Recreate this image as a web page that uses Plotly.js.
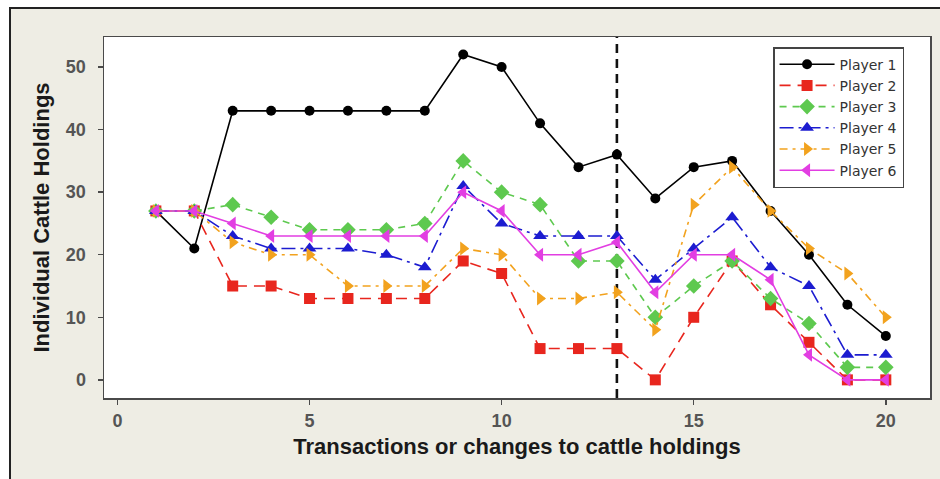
<!DOCTYPE html>
<html>
<head>
<meta charset="utf-8">
<script src="https://cdn.plot.ly/plotly-3.0.1.min.js"></script>
<style>
  html, body { margin: 0; padding: 0; background: #ffffff; width: 940px; height: 479px; overflow: hidden; }
  #frame { position: absolute; left: 9px; top: 7px; width: 931px; height: 472px;
           border-top: 2px solid #222; border-left: 2px solid #222; background: #eeede4; }
  #chart { width: 929px; height: 470px; }
</style>
</head>
<body>
<div id="frame"><div id="chart"></div></div>
<script>
const transactions = [1,2,3,4,5,6,7,8,9,10,11,12,13,14,15,16,17,18,19,20];
const player1 = [27,21,43,43,43,43,43,43,52,50,41,34,36,29,34,35,27,20,12,7];
const player2 = [27,27,15,15,13,13,13,13,19,17,5,5,5,0,10,19,12,6,0,0];
const player3 = [27,27,28,26,24,24,24,25,35,30,28,19,19,10,15,19,13,9,2,2];
const player4 = [27,27,23,21,21,21,20,18,31,25,23,23,23,16,21,26,18,15,4,4];
const player5 = [27,27,22,20,20,15,15,15,21,20,13,13,14,8,28,34,27,21,17,10];
const player6 = [27,27,25,23,23,23,23,23,30,27,20,20,22,14,20,20,16,4,0,0];
const seriesNames = ["Player 1","Player 2","Player 3","Player 4","Player 5","Player 6"];
const xTicks = [0,5,10,15,20];
const yTicks = [0,10,20,30,40,50];
const markerLine = 13;

const series = [player1, player2, player3, player4, player5, player6];
const colors = ["#000000","#e8261e","#5ec94f","#1c1cd0","#f2a21e","#e23ee2"];
const symbols = ["circle","square","diamond","triangle-up","triangle-right","triangle-left"];
const dashes = ["solid","11px,7px","7px,6px","14px,5px,3px,5px","8px,5px,3px,5px","solid"];
const sizes = [10,11,12,12,12,12];

const traces = series.map((ys, i) => ({
  x: transactions, y: ys, name: seriesNames[i], type: "scatter", mode: "lines+markers",
  line: { color: colors[i], width: 1.6, dash: dashes[i] },
  marker: { color: colors[i], symbol: symbols[i], size: sizes[i] }
}));

const axisFont = { family: "Liberation Sans, Arial, sans-serif", size: 18, color: "#555555", weight: "bold" };
const titleFont = { family: "Liberation Sans, Arial, sans-serif", size: 22, color: "#1a1a1a", weight: "bold" };

const layout = {
  width: 929, height: 470,
  paper_bgcolor: "#eeede4", plot_bgcolor: "#ffffff",
  margin: { l: 93, r: 10, t: 28, b: 81 },
  showlegend: true,
  legend: {
    x: 0.81, y: 0.972, xanchor: "left", yanchor: "top",
    bgcolor: "#ffffff", bordercolor: "#444", borderwidth: 1.5,
    font: { family: "DejaVu Sans, sans-serif", size: 14, color: "#333" },
    tracegroupgap: 0, itemwidth: 55
  },
  xaxis: {
    range: [-0.35, 21.15], tickvals: xTicks, ticktext: xTicks.map(String),
    showgrid: false, zeroline: false, showline: true, mirror: true,
    linecolor: "#4a4a4a", linewidth: 1.5, ticks: "outside", ticklen: 5, tickcolor: "#4a4a4a", tickwidth: 1.5,
    ticklabelstandoff: 1,
    tickfont: axisFont,
    title: { text: "Transactions or changes to cattle holdings", font: titleFont, standoff: 8 }
  },
  yaxis: {
    range: [-2.9, 54.8], tickvals: yTicks, ticktext: yTicks.map(String),
    showgrid: false, zeroline: false, showline: true, mirror: true,
    linecolor: "#4a4a4a", linewidth: 1.5, ticks: "outside", ticklen: 5, tickcolor: "#4a4a4a", tickwidth: 1.5,
    ticklabelstandoff: 8,
    tickfont: axisFont,
    title: { text: "Individual Cattle Holdings", font: titleFont, standoff: 10 }
  },
  shapes: [{
    type: "line", xref: "x", yref: "paper", x0: markerLine, x1: markerLine, y0: 0, y1: 1,
    line: { color: "#111", width: 2.6, dash: "9px,6px" }, layer: "below"
  }]
};

Plotly.newPlot("chart", traces, layout, { displayModeBar: false, staticPlot: true });
</script>
</body>
</html>
